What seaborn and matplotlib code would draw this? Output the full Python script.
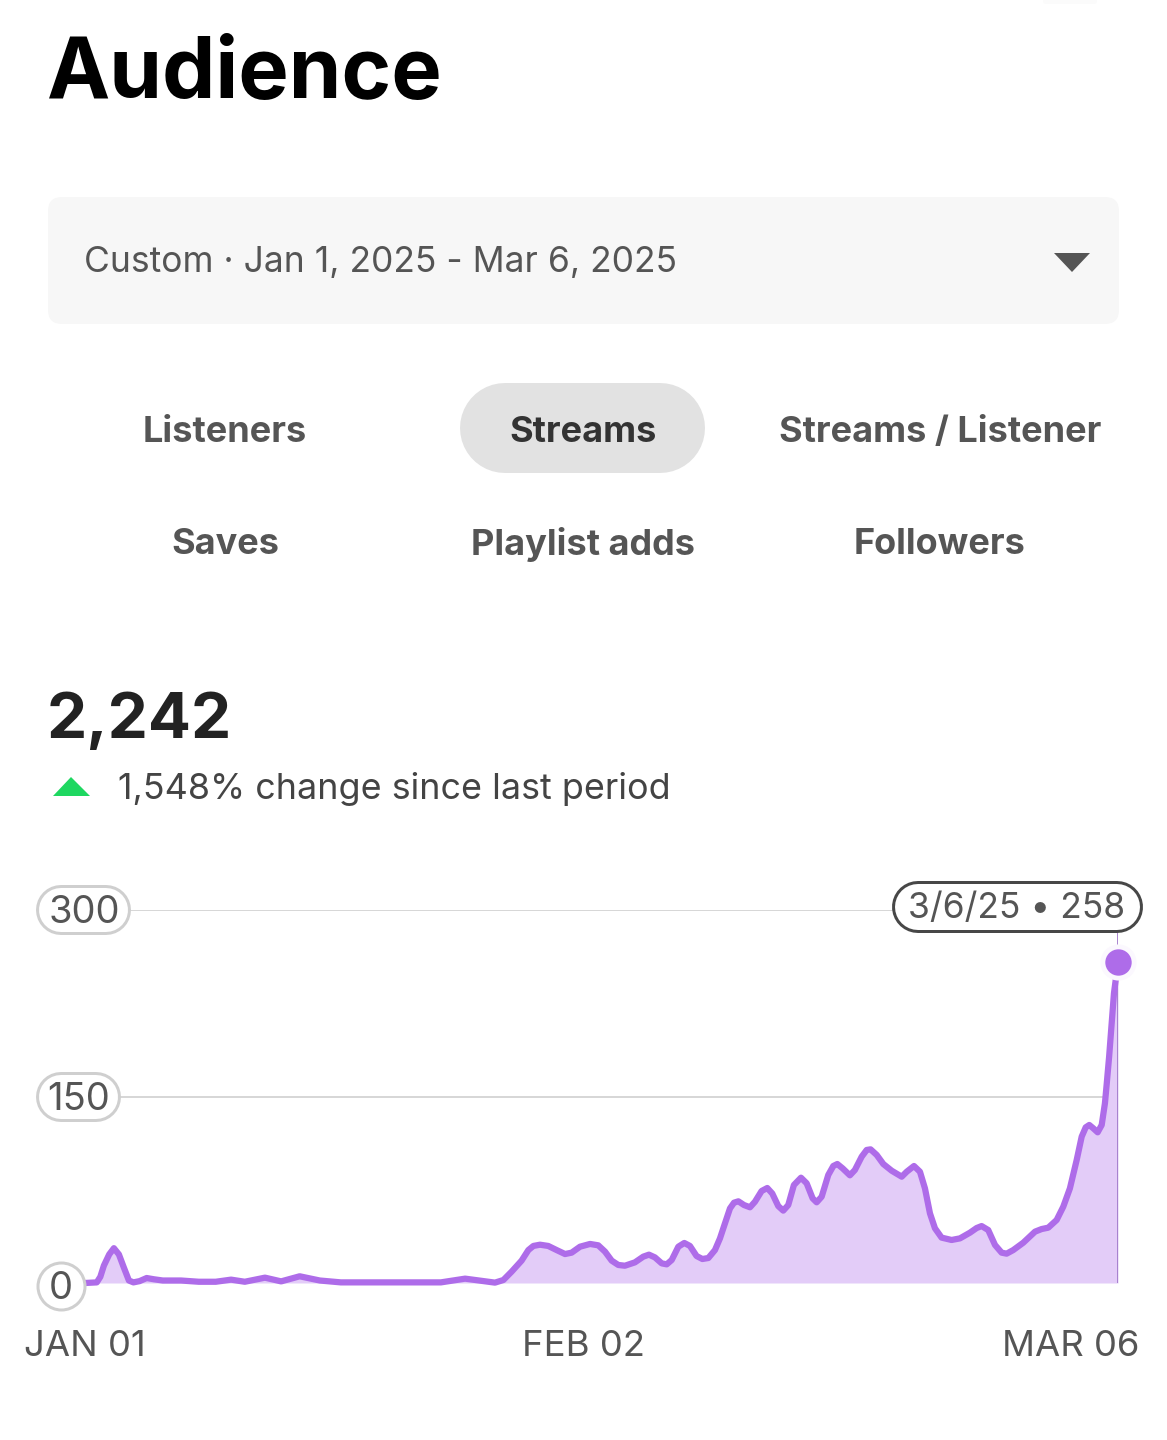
import pandas as pd
import seaborn as sns
import matplotlib.pyplot as plt
from matplotlib.patches import FancyBboxPatch, Polygon

# Curve vertices: days since Jan 1, and streams
days = [0, 0.73, 0.95, 1.17, 1.5, 1.79, 2.1, 2.39, 2.72, 3.0, 3.38, 3.82, 4.27, 4.82, 5.95, 7.05,
        8.1, 9.05, 9.9, 11.15, 12.15, 13.3, 14.55, 15.85, 22.05, 23.55, 25.4,
        25.92, 26.43, 27.05, 27.47, 27.78, 28.19, 28.7, 29.22, 29.74, 30.15, 30.67, 31.29, 31.8,
        32.22, 32.63, 33.04, 33.45, 34.07, 34.59, 34.94, 35.31, 35.73, 36.04, 36.35, 36.76, 37.13,
        37.48, 37.89, 38.25, 38.62, 39.03, 39.34, 39.65, 39.96, 40.21, 40.48, 40.83, 41.2, 41.51,
        41.92, 42.27, 42.58, 42.95, 43.26, 43.57, 43.92, 44.36, 44.71, 45.08, 45.33, 45.64, 46.05,
        46.36, 46.61, 46.94, 47.39, 47.7, 48.12, 48.43, 48.67, 49.05, 49.46, 49.98, 50.6, 50.91,
        51.36, 51.73, 52.04, 52.35, 52.66, 53.07, 53.69, 54.21, 54.83, 55.24, 55.55, 55.96, 56.38,
        56.79, 57.1, 57.51, 58.13, 58.86, 59.27, 59.68, 60.2, 60.61, 61.02, 61.44, 61.75, 62.0,
        62.22, 62.47, 62.74, 62.99, 63.19, 63.3, 63.45, 63.75, 64]
streams = [0, 0.5, 5, 14, 23, 28, 23, 13, 2, 0.5, 1.5, 4, 3, 2, 2, 1,
           1, 2.7, 1, 4.3, 1.3, 5.4, 2, 0.5, 0.5, 3.5, 0.3,
           2.4, 9.1, 18, 26.5, 29.8, 30.8, 29.8, 26.5, 23.3, 24.4, 29.2, 31.4, 30.3,
           25.2, 18, 14.5, 13.9, 16.6, 21.2, 22.8, 20.6, 15.8, 15, 18.5, 29.2, 32.2,
           29.8, 21.7, 19.3, 20.1, 26.5, 35.9, 48, 60, 64.6, 65.7, 62.7, 60.9, 65.4,
           74, 76.4, 72, 61.9, 58.2, 62.7, 78.8, 84.7, 80.2, 68.1, 64.9, 69.4, 86.9,
           94.1, 95.7, 92.2, 86.6, 90.9, 101.6, 107, 107.5, 103, 95.7, 90.3, 85.5, 89.5,
           94.1, 89.5, 76.1, 56, 44, 36.5, 34.6, 35.9, 40.5, 44.2, 45.8, 42.6, 30.6,
           24.4, 23.6, 26.5, 32.4, 41.3, 43.4, 44.5, 50.7, 61.4, 76.1, 98.9, 117.7, 125.2,
           127.1, 124.4, 121.2, 127.1, 144.5, 160, 182, 233, 258]

y_ticks = [0, 150, 300]
x_labels = ["JAN 01", "FEB 02", "MAR 06"]
tabs_top = ["Listeners", "Streams", "Streams / Listener"]
tabs_bottom = ["Saves", "Playlist adds", "Followers"]

PURPLE = "#AE6CE9"
FILL = "#E3CCF8"
GRID = "#D6D6D6"
TEXT = "#555555"
W, H = 1167, 1440

sns.set_theme(style="white")
plt.rcParams["font.family"] = ["Inter", "DejaVu Sans"]

df = pd.DataFrame({"day": days, "streams": streams})

fig = plt.figure(figsize=(W / 100, H / 100), dpi=100, facecolor="white")

# chart axes: 0 sits at y=1283, 300 at y=910, day 0 at x=85, day 64 at x=1118
ax = fig.add_axes([85 / W, 1 - 1283 / H, (1118 - 85) / W, (1283 - 910) / H])
ax.set_xlim(0, 64)
ax.set_ylim(0, 300)
ax.axis("off")
ax.patch.set_alpha(0)

ax.plot([0, 64], [150, 150], color=GRID, lw=1.4, zorder=1)
ax.plot([0, 64], [300, 300], color=GRID, lw=1.4, zorder=1)
ax.plot([0, 64], [0, 0], color="#C9BFD3", lw=1.4, zorder=1)
ax.fill_between(df["day"], df["streams"], 0, color=FILL, lw=0, zorder=2)
ax.vlines(64, 0, 300, color="#A27BCB", lw=1.3, zorder=3)
sns.lineplot(data=df, x="day", y="streams", color=PURPLE, lw=4.5, ax=ax, sort=False,
             solid_joinstyle="round", solid_capstyle="round", zorder=4, clip_on=False)
ax.set_xlabel("")
ax.set_ylabel("")
ax.plot(64, streams[-1], "o", ms=26, mfc="#FBF8FE", mec="none", zorder=5, clip_on=False)
ax.plot(64, streams[-1], "o", ms=19, mfc=PURPLE, mec="none", zorder=6, clip_on=False)

# overlay in pixel coordinates for the app interface around the chart
ui = fig.add_axes([0, 0, 1, 1], zorder=10)
ui.set_xlim(0, W)
ui.set_ylim(H, 0)
ui.axis("off")
ui.patch.set_alpha(0)


def pill(x0, y0, x1, y1, fc="white", ec=None, border=0, z=1):
    # a capsule is just a thick line with round caps, widths are px converted to points
    h = y1 - y0
    yc = (y0 + y1) / 2
    if x1 - x0 <= h:
        # too short for a line to survive snapping, so draw the round one as a marker
        ui.plot((x0 + x1) / 2, yc, "o", ms=(h - border) * 0.72, mfc=fc, mec=ec, mew=border * 0.72, zorder=z)
        return
    xs = [x0 + h / 2, x1 - h / 2]
    if ec:
        ui.plot(xs, [yc, yc], color=ec, lw=h * 0.72, solid_capstyle="round", zorder=z)
    ui.plot(xs, [yc, yc], color=fc, lw=(h - 2 * border) * 0.72, solid_capstyle="round", zorder=z)


ui.add_patch(FancyBboxPatch((1046, 0), 48, 1, boxstyle="round,pad=3,rounding_size=3", fc="#FBFBFB", ec="none"))
ui.text(47, 75, "Audience", fontsize=61, fontweight="bold", color="black", va="center", ha="left")

ui.add_patch(FancyBboxPatch((62, 211), 1043, 99, boxstyle="round,pad=14,rounding_size=14", fc="#F7F7F7", ec="none"))
ui.text(84, 262, "Custom · Jan 1, 2025 - Mar 6, 2025", fontsize=25.5, color=TEXT, va="center", ha="left")
ui.add_patch(Polygon([[1054, 253], [1090, 253], [1072, 272]], fc=TEXT, ec="none"))

pill(460, 383, 705, 473, fc="#E2E2E2")
tab_x = [225, 583, 940]
for x, lab in zip(tab_x, tabs_top):
    col = "#333333" if lab == "Streams" else TEXT
    ui.text(x, 432, lab, fontsize=26, fontweight="bold", color=col, va="center", ha="center")
for x, lab in zip(tab_x, tabs_bottom):
    ui.text(x, 544, lab, fontsize=26, fontweight="bold", color=TEXT, va="center", ha="center")

ui.text(47, 721, "2,242", fontsize=46, fontweight="bold", color="#222222", va="center", ha="left")
ui.add_patch(Polygon([[53, 796], [90, 796], [71, 777]], fc="#1ED760", ec="none"))
ui.text(118, 789, "1,548% change since last period", fontsize=25.8, color="#444444", va="center", ha="left")

# y tick pills
pill_right = {0: 85, 150: 121, 300: 131}
for tick in y_ticks:
    yc = 1283 - tick * (1283 - 910) / 300
    yc_pill = yc + 3 if tick == 0 else yc
    pill(36, yc_pill - 25, pill_right[tick], yc_pill + 25, fc="white", ec="#CFCFCF", border=3, z=3)
    ui.text((37 + pill_right[tick]) / 2, yc_pill + 3, str(tick), fontsize=27.5, color=TEXT, va="center", ha="center", zorder=4)

# tooltip
pill(892, 881, 1143, 933, fc="white", ec="#474747", border=3, z=3)
ui.text(1017, 909, "3/6/25 • 258", fontsize=25.5, color=TEXT, va="center", ha="center", zorder=4)

for x, lab in zip([85, 583, 1071], x_labels):
    ui.text(x, 1346, lab, fontsize=26.3, color=TEXT, va="center", ha="center")

fig.savefig("out.png", dpi=100)
